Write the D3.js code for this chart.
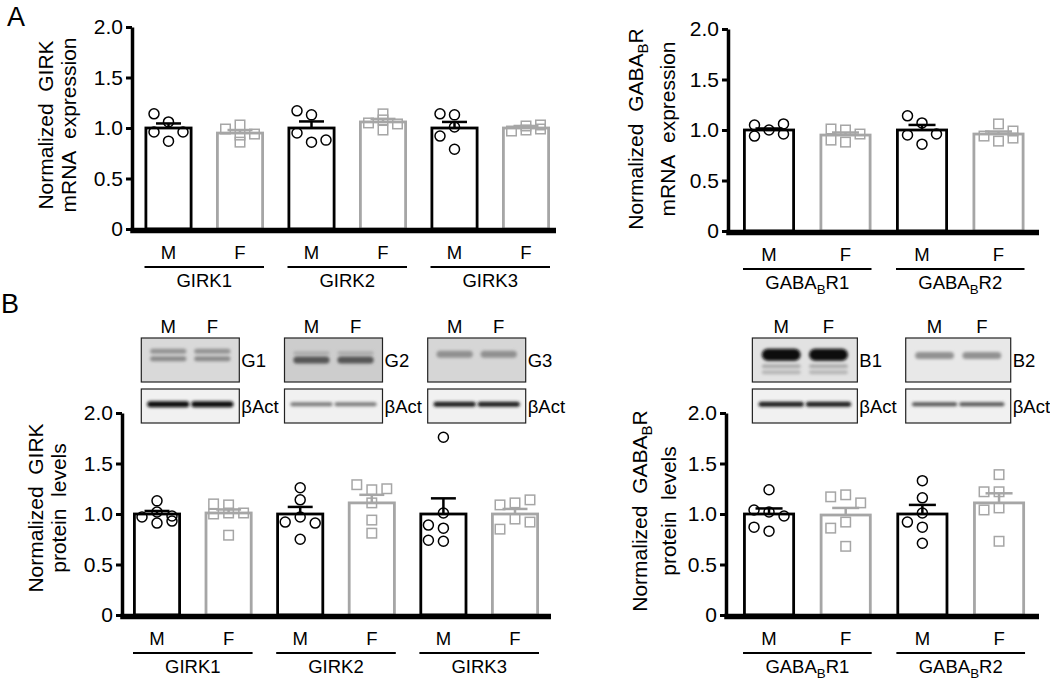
<!DOCTYPE html>
<html><head><meta charset="utf-8">
<script src="https://cdn.jsdelivr.net/npm/d3@7"></script>
<style>
body{margin:0;background:#fff}
svg{display:block;font-family:"Liberation Sans",Arial,Helvetica,sans-serif}
</style></head><body>
<svg id="chart" width="1050" height="681"></svg>
<script>
// ---------------- DATA ----------------
const sexes = ["M","F"];
const yTicks = [0, 0.5, 1.0, 1.5, 2.0];

// A: mRNA, GIRK
const mrnaGirkGroups = ["GIRK1","GIRK2","GIRK3"];
const mrnaGirkMaleMean = [1.00, 1.00, 1.00];
const mrnaGirkMaleSem = [0.045, 0.065, 0.06];
const mrnaGirkFemaleMean = [0.95, 1.06, 1.00];
const mrnaGirkFemaleSem = [0.03, 0.03, 0.02];
const mrnaGirkMalePts = [[1.06,0.87,1.14,0.96,0.96],[1.13,0.86,1.17,0.95,0.88],[1.01,0.79,1.13,1.14,0.92]];
const mrnaGirkFemalePts = [[1.03,0.86,0.99,0.94,0.93],[1.14,0.98,1.05,1.04,1.08],[1.02,0.97,1.03,0.99,0.98]];

// A: mRNA, GABA-B receptor
const mrnaGabaGroups = ["GABA_BR1","GABA_BR2"];
const mrnaGabaMaleMean = [1.00, 1.00];
const mrnaGabaMaleSem = [0.015, 0.05];
const mrnaGabaFemaleMean = [0.95, 0.96];
const mrnaGabaFemaleSem = [0.025, 0.025];
const mrnaGabaMalePts = [[1.00,0.94,1.05,1.06,0.96],[1.07,0.86,1.14,0.95,0.96]];
const mrnaGabaFemalePts = [[1.00,0.88,1.01,0.96,0.90],[1.06,0.89,0.94,0.99,0.92]];

// B: protein, GIRK
const protGirkGroups = ["GIRK1","GIRK2","GIRK3"];
const protGirkMaleMean = [1.00, 1.00, 1.00];
const protGirkMaleSem = [0.03, 0.07, 0.155];
const protGirkFemaleMean = [1.01, 1.11, 1.00];
const protGirkFemaleSem = [0.035, 0.08, 0.05];
const protGirkMalePts = [[1.13,1.02,0.97,0.91,0.93,0.98],[1.26,1.14,0.97,0.92,0.91,0.75],[1.76,1.01,0.86,0.89,0.73,0.74]];
const protGirkFemalePts = [[1.09,1.10,1.01,1.00,1.01,0.79],[1.24,1.29,1.25,1.11,0.94,0.81],[1.11,1.09,1.14,0.95,0.85,0.92]];

// B: protein, GABA-B receptor
const protGabaGroups = ["GABA_BR1","GABA_BR2"];
const protGabaMaleMean = [1.00, 1.00];
const protGabaMaleSem = [0.055, 0.09];
const protGabaFemaleMean = [0.99, 1.11];
const protGabaFemaleSem = [0.07, 0.095];
const protGabaMalePts = [[1.24,1.02,1.04,0.98,0.83,0.87],[1.33,1.16,1.01,0.92,0.87,0.71]];
const protGabaFemalePts = [[1.19,1.17,1.11,0.92,0.86,0.68],[1.39,1.22,1.22,1.06,1.04,0.73]];

// blot lane labels
const blotGirkTargets = ["G1","G2","G3"];
const blotGabaTargets = ["B1","B2"];
const loadingControl = "βAct";

// ---------------- STYLE / LAYOUT ----------------
const COL = {M:"#000000", F:"#a6a6a6"};
const blotStyle = {
  G1:{bg:"#d9d9d9", bands:[{f:0.30,h:5,c:"#939393"},{f:0.47,h:5,c:"#8a8a8a"}]},
  G2:{bg:"#cdcdcd", bands:[{f:0.34,h:3,c:"#a6a6a6"},{f:0.50,h:7,c:"#555555"}]},
  G3:{bg:"#d6d6d6", bands:[{f:0.37,h:7,c:"#909090"}]},
  B1:{bg:"#e2e2e2", bands:[{f:0.38,h:12,c:"#080808"},{f:0.64,h:4,c:"#ababab"},{f:0.78,h:4,c:"#b5b5b5"}]},
  B2:{bg:"#e8e8e8", bands:[{f:0.40,h:7,c:"#929292"}]}
};
const actStyle = {G1:{c:"#101010",h:6}, G2:{c:"#7a7a7a",h:4}, G3:{c:"#1e1e1e",h:5}, B1:{c:"#1a1a1a",h:5}, B2:{c:"#555555",h:4}};

const svg = d3.select("#chart");
svg.append("rect").attr("width",1050).attr("height",681).attr("fill","#fff");
const defs = svg.append("defs");
defs.append("filter").attr("id","blur").attr("x","-20%").attr("y","-150%").attr("width","140%").attr("height","400%")
  .append("feGaussianBlur").attr("stdDeviation",1.6);

function addRich(sel, str, subDy) {
  // "GABA_BR1" -> GABA + sub(B) + R1
  const idx = str.indexOf("_");
  if (idx < 0) { sel.text(str); return; }
  sel.append("tspan").text(str.slice(0, idx));
  sel.append("tspan").attr("font-size","0.72em").attr("dy", subDy).text(str.charAt(idx+1));
  sel.append("tspan").attr("dy", -subDy).text(str.slice(idx+2));
}

function placePoints(vals, y, sep) {
  const placed = [];
  vals.forEach(v => {
    const py = y(v);
    let best = 0, bestD = -1;
    for (const c of [0,-1,1]) {
      const others = placed.filter(p => p.c === c);
      const d = others.length ? d3.min(others, p => Math.abs(p.py - py)) : Infinity;
      if (d >= sep) { best = c; bestD = d; break; }
      if (d > bestD) { bestD = d; best = c; }
    }
    placed.push({v, py, c: best});
  });
  return placed;
}

function drawPanel(cfg) {
  const g = svg.append("g");
  const y = d3.scaleLinear().domain([0,2]).range([cfg.y0, cfg.y2]);
  const keys = cfg.groups.flatMap(gr => sexes.map(s => gr + "|" + s));
  const p = 1 - cfg.barW / cfg.step;
  const x = d3.scaleBand().domain(keys)
    .range([cfg.xStart, cfg.xStart + keys.length * cfg.step])
    .paddingInner(p).paddingOuter(p / 2);
  const bw = x.bandwidth();
  const rows = [];
  cfg.groups.forEach((gr, i) => {
    rows.push({key: gr+"|M", sex:"M", mean: cfg.mMean[i], sem: cfg.mSem[i], pts: cfg.mPts[i]});
    rows.push({key: gr+"|F", sex:"F", mean: cfg.fMean[i], sem: cfg.fSem[i], pts: cfg.fPts[i]});
  });

  // bars
  g.selectAll("rect.bar").data(rows).join("rect").attr("class","bar")
    .attr("x", d => x(d.key) + 1.4).attr("width", bw - 2.8)
    .attr("y", d => y(d.mean)).attr("height", d => cfg.y0 - y(d.mean))
    .attr("fill","none").attr("stroke", d => COL[d.sex]).attr("stroke-width", 2.8);

  // error bars (upward SEM)
  rows.forEach(d => {
    const cx = x(d.key) + bw / 2;
    g.append("line").attr("x1",cx).attr("x2",cx).attr("y1",y(d.mean)).attr("y2",y(d.mean+d.sem))
      .attr("stroke",COL[d.sex]).attr("stroke-width",2.5);
    g.append("line").attr("x1",cx - bw*0.26).attr("x2",cx + bw*0.26).attr("y1",y(d.mean+d.sem)).attr("y2",y(d.mean+d.sem))
      .attr("stroke",COL[d.sex]).attr("stroke-width",2.5);
  });

  // individual points
  rows.forEach(d => {
    const cx = x(d.key) + bw / 2;
    const placed = placePoints(d.pts, y, 11);
    if (d.sex === "M") {
      g.selectAll(null).data(placed).join("circle")
        .attr("cx", q => cx + q.c * cfg.colW).attr("cy", q => q.py).attr("r", 5)
        .attr("fill","none").attr("stroke","#000").attr("stroke-width",1.5);
    } else {
      g.selectAll(null).data(placed).join("rect")
        .attr("x", q => cx + q.c * cfg.colW - 4.75).attr("y", q => q.py - 4.75)
        .attr("width", 9.5).attr("height", 9.5)
        .attr("fill","none").attr("stroke",COL.F).attr("stroke-width",1.5);
    }
  });

  // y axis
  const ax = d3.axisLeft(y).tickValues(yTicks)
    .tickFormat(d => d === 0 ? "0" : d3.format(".1f")(d))
    .tickSize(6).tickSizeOuter(0).tickPadding(3);
  const ag = g.append("g").attr("transform", `translate(${cfg.axisX},0)`).call(ax);
  ag.attr("font-family", null).attr("font-size", null);
  ag.select(".domain").attr("stroke","#000").attr("stroke-width",3.5);
  ag.selectAll(".tick line").attr("stroke","#000").attr("stroke-width",3);
  ag.selectAll(".tick text").attr("fill","#000").attr("font-size",21);

  // x axis (thick baseline)
  g.append("line").attr("x1", cfg.axisX - 1.75).attr("x2", cfg.xEnd)
    .attr("y1", cfg.y0 + 1.5).attr("y2", cfg.y0 + 1.5)
    .attr("stroke","#000").attr("stroke-width",5.5);

  // sex labels
  g.selectAll("text.sex").data(rows).join("text").attr("class","sex")
    .attr("x", d => x(d.key) + bw/2).attr("y", cfg.y0 + 30)
    .attr("text-anchor","middle").attr("font-size",18.5).text(d => d.sex);

  // group underline + labels
  cfg.groups.forEach(gr => {
    const x1 = x(gr+"|M"), x2 = x(gr+"|F") + bw;
    g.append("line").attr("x1",x1).attr("x2",x2).attr("y1",cfg.y0+38).attr("y2",cfg.y0+38)
      .attr("stroke","#000").attr("stroke-width",2);
    const t = g.append("text").attr("x",(x1+x2)/2).attr("y",cfg.y0+58)
      .attr("text-anchor","middle").attr("font-size",18.5);
    addRich(t, gr, 5);
  });

  // y title (two lines)
  cfg.title.forEach((line, i) => {
    const t = g.append("text")
      .attr("transform", `translate(${cfg.titleX[i]},${cfg.titleY}) rotate(-90)`)
      .attr("text-anchor","middle").attr("font-size",21);
    addRich(t, line, 5);
  });

  // blots
  if (cfg.blots) {
    cfg.groups.forEach((gr, i) => {
      const name = cfg.blots[i];
      const cx = (x(gr+"|M") + x(gr+"|F") + bw) / 2 - 2.5;
      const W = cfg.blotW, x0 = cx - W/2;
      const laneOff = W * 0.225, laneW = W * 0.37;
      const boxes = [
        {top:338, h:44, bg: blotStyle[name].bg, bands: blotStyle[name].bands, lw: laneW, label: name, ly: 367},
        {top:389, h:34, bg: "#f1f1f1", bands:[{f:0.45, h: actStyle[name].h, c: actStyle[name].c}], lw: W*0.43, label: loadingControl, ly: 413}
      ];
      boxes.forEach((b, k) => {
        const id = `clip-${name}-${k}`;
        defs.append("clipPath").attr("id", id).append("rect")
          .attr("x", x0).attr("y", b.top).attr("width", W).attr("height", b.h);
        const bg = g.append("g").attr("clip-path", `url(#${id})`);
        bg.append("rect").attr("x",x0).attr("y",b.top).attr("width",W).attr("height",b.h).attr("fill",b.bg);
        [-1, 1].forEach(l => {
          b.bands.forEach(bd => {
            bg.append("rect")
              .attr("x", cx + l*laneOff - b.lw/2).attr("y", b.top + bd.f*b.h - bd.h/2)
              .attr("width", b.lw).attr("height", bd.h).attr("rx", bd.h/2)
              .attr("fill", bd.c).attr("filter","url(#blur)");
          });
        });
        g.append("rect").attr("x",x0).attr("y",b.top).attr("width",W).attr("height",b.h)
          .attr("fill","none").attr("stroke","#222").attr("stroke-width",1.2);
        g.append("text").attr("x", x0 + W + 2).attr("y", b.ly).attr("font-size",18.5).text(b.label);
      });
      sexes.forEach((s, j) => {
        g.append("text").attr("x", cx + (j === 0 ? -laneOff : laneOff)).attr("y", 333)
          .attr("text-anchor","middle").attr("font-size",18.5).text(s);
      });
    });
  }
}

const SP = "\u00a0\u00a0";
drawPanel({groups: mrnaGirkGroups, mMean: mrnaGirkMaleMean, mSem: mrnaGirkMaleSem, mPts: mrnaGirkMalePts,
  fMean: mrnaGirkFemaleMean, fSem: mrnaGirkFemaleSem, fPts: mrnaGirkFemalePts,
  axisX:132, y0:229, y2:27, xStart:132.75, step:71.5, barW:48, xEnd:556, colW:14.5,
  title:["Normalized"+SP+"GIRK","mRNA"+SP+"expression"], titleX:[53,76], titleY:125});

drawPanel({groups: mrnaGabaGroups, mMean: mrnaGabaMaleMean, mSem: mrnaGabaMaleSem, mPts: mrnaGabaMalePts,
  fMean: mrnaGabaFemaleMean, fSem: mrnaGabaFemaleSem, fPts: mrnaGabaFemalePts,
  axisX:728, y0:231, y2:29, xStart:730.75, step:76.5, barW:52, xEnd:1039, colW:14.5,
  title:["Normalized"+SP+"GABA_BR","mRNA"+SP+"expression"], titleX:[643,675], titleY:129});

drawPanel({groups: protGirkGroups, mMean: protGirkMaleMean, mSem: protGirkMaleSem, mPts: protGirkMalePts,
  fMean: protGirkFemaleMean, fSem: protGirkFemaleSem, fPts: protGirkFemalePts,
  axisX:122, y0:615, y2:413, xStart:121.2, step:71.6, barW:48, xEnd:551, colW:15,
  title:["Normalized"+SP+"GIRK","protein"+SP+"levels"], titleX:[43,66], titleY:508,
  blots: blotGirkTargets, blotW:98});

drawPanel({groups: protGabaGroups, mMean: protGabaMaleMean, mSem: protGabaMaleSem, mPts: protGabaMalePts,
  fMean: protGabaFemaleMean, fSem: protGabaFemaleSem, fPts: protGabaFemalePts,
  axisX:726, y0:615, y2:413, xStart:730.7, step:76.67, barW:52, xEnd:1039, colW:15,
  title:["Normalized"+SP+"GABA_BR","protein"+SP+"levels"], titleX:[647,676], titleY:511,
  blots: blotGabaTargets, blotW:105});

// panel letters
svg.append("text").attr("x",7).attr("y",26).attr("font-size",27).text("A");
svg.append("text").attr("x",1).attr("y",313).attr("font-size",27).text("B");
</script>
</body></html>
